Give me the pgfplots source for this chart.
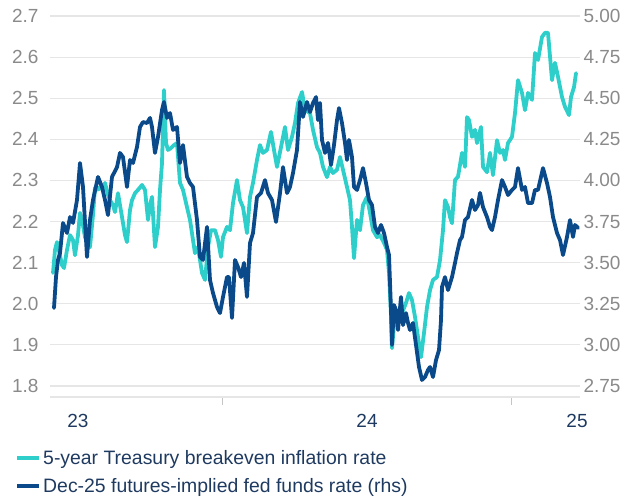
\documentclass[border=0pt]{standalone}
\usepackage{pgfplots}
\pgfplotsset{compat=1.18}
\usepackage{fontspec}
\setmainfont{Liberation Sans}
\definecolor{cyanline}{HTML}{2ECFCB}
\definecolor{navyline}{HTML}{0B4A8A}
\definecolor{navytext}{HTML}{1F3A60}
\definecolor{labgray}{HTML}{8A8A8A}
\definecolor{gridgray}{HTML}{E6E6E6}
\pgfplotsset{
  base/.style={
    scale only axis, width=530pt, height=387pt,
    xmin=50, xmax=580,
    /pgf/number format/assume math mode=true,
    tick label style={font=\fontsize{19}{22}\selectfont},
    yticklabel style={text=labgray},
    ytick style={draw=none},
    clip=false,
  },
  lineplot/.style={line width=3.8pt, line join=round, line cap=round},
}
\begin{document}
\begin{tikzpicture}
\useasboundingbox (-50pt,-102pt) rectangle (589pt,397pt);
\begin{axis}[base,
  ymin=1.7732, ymax=2.7146,
  ytick={1.8,1.9,2.0,2.1,2.2,2.3,2.4,2.5,2.6,2.7},
  yticklabel style={/pgf/number format/.cd, fixed, fixed zerofill, precision=1},
  ymajorgrids, grid style={gridgray, line width=1.2pt},
  axis x line*=bottom, axis y line*=left,
  y axis line style={draw=none},
  x axis line style={gridgray, line width=1.2pt, -},
  xtick={222,511}, xticklabels={},
  xtick style={draw=labgray!50, line width=1pt},
  tick align=outside, major tick length=8pt,
  extra x ticks={78,367,577}, extra x tick labels={23,24,25},
  extra x tick style={major tick length=0pt, xticklabel style={text=navytext, anchor=center, yshift=-24pt}},
]
\addplot[cyanline, lineplot] coordinates {
(53,2.075)(55,2.131)(57,2.150)(60,2.118)(62,2.094)(64,2.087)(67,2.131)(70,2.167)(73,2.155)(75,2.118)(78,2.167)(80,2.221)(83,2.191)(85,2.162)(88,2.143)(90,2.138)(93,2.216)(95,2.282)(98,2.277)(100,2.284)(103,2.277)(105,2.294)(108,2.265)(110,2.252)(113,2.240)(115,2.223)(118,2.269)(120,2.240)(122,2.211)(125,2.167)(127,2.150)(130,2.228)(132,2.252)(135,2.269)(138,2.277)(142,2.289)(145,2.277)(148,2.204)(150,2.240)(152,2.260)(155,2.138)(158,2.187)(160,2.277)(162,2.342)(164,2.520)(166,2.391)(168,2.374)(171,2.379)(174,2.386)(177,2.391)(180,2.294)(183,2.277)(187,2.235)(190,2.204)(193,2.155)(195,2.123)(198,2.138)(202,2.075)(205,2.058)(208,2.138)(211,2.179)(215,2.179)(218,2.155)(221,2.114)(223,2.162)(227,2.187)(230,2.179)(233,2.245)(237,2.301)(240,2.252)(243,2.235)(247,2.172)(250,2.260)(253,2.294)(257,2.350)(260,2.386)(263,2.367)(267,2.374)(271,2.418)(274,2.374)(277,2.333)(281,2.381)(285,2.430)(288,2.374)(292,2.406)(295,2.440)(298,2.488)(302,2.515)(305,2.471)(310,2.464)(313,2.423)(317,2.381)(320,2.367)(323,2.333)(327,2.308)(330,2.333)(333,2.318)(337,2.326)(340,2.357)(343,2.326)(347,2.284)(350,2.252)(352,2.187)(354,2.111)(357,2.204)(360,2.179)(363,2.240)(367,2.260)(370,2.221)(373,2.179)(377,2.162)(380,2.167)(384,2.148)(387,2.131)(389,2.075)(391,1.973)(392,1.892)(395,1.977)(398,1.960)(402,1.977)(406,2.002)(409,2.026)(412,2.009)(415,1.968)(418,1.919)(421,1.870)(424,1.929)(427,1.992)(430,2.033)(433,2.058)(437,2.065)(440,2.106)(443,2.179)(445,2.252)(448,2.235)(450,2.211)(452,2.196)(455,2.301)(458,2.309)(462,2.367)(465,2.333)(467,2.454)(469,2.447)(472,2.406)(475,2.423)(477,2.391)(481,2.430)(483,2.333)(487,2.320)(490,2.367)(493,2.313)(497,2.398)(500,2.367)(503,2.374)(505,2.350)(508,2.391)(512,2.406)(515,2.464)(518,2.544)(522,2.513)(525,2.471)(528,2.513)(532,2.496)(535,2.610)(538,2.593)(542,2.649)(545,2.659)(548,2.659)(552,2.544)(555,2.586)(558,2.552)(562,2.503)(565,2.479)(569,2.459)(571,2.503)(574,2.527)(576,2.561)
};
\end{axis}
\begin{axis}[base,
  ymin=2.6825, ymax=5.0365,
  axis x line=none, axis y line*=right,
  y axis line style={draw=none},
  ytick={2.75,3.00,3.25,3.50,3.75,4.00,4.25,4.50,4.75,5.00},
  yticklabel style={/pgf/number format/.cd, fixed, fixed zerofill, precision=2},
  legend style={at={(-0.066,-0.133)}, anchor=north west, draw=none, fill=none,
    font=\fontsize{19.4}{22}\selectfont\color{navytext}, inner sep=0pt, row sep=8pt,
    legend cell align=left},
  legend image code/.code={\draw[#1, line width=4pt, line cap=butt] (0pt,0pt) -- (22pt,0pt);},
]
\addlegendimage{cyanline}
\addlegendentry{5-year Treasury breakeven inflation rate}
\addplot[navyline, lineplot] coordinates {
(54,3.224)(56,3.412)(58,3.516)(60,3.558)(63,3.741)(67,3.680)(70,3.777)(73,3.741)(77,3.881)(80,4.106)(83,3.960)(87,3.534)(90,3.759)(93,3.881)(98,4.021)(102,3.960)(105,3.881)(108,3.789)(112,4.021)(117,4.081)(120,4.167)(123,4.142)(127,3.960)(130,4.124)(133,4.106)(137,4.203)(140,4.325)(143,4.355)(147,4.349)(150,4.380)(152,4.325)(155,4.167)(158,4.264)(162,4.428)(164,4.477)(167,4.380)(170,4.410)(173,4.307)(177,4.325)(180,4.106)(183,4.215)(187,4.021)(190,3.984)(193,3.960)(197,3.759)(200,3.534)(203,3.516)(207,3.717)(210,3.394)(213,3.315)(217,3.230)(220,3.193)(223,3.291)(227,3.412)(229,3.412)(232,3.163)(235,3.516)(238,3.473)(241,3.412)(244,3.498)(247,3.291)(250,3.619)(253,3.680)(257,3.899)(261,3.923)(265,4.002)(268,3.923)(272,3.881)(276,3.747)(280,3.923)(283,4.081)(287,3.923)(290,3.960)(293,4.045)(297,4.185)(300,4.477)(303,4.386)(307,4.477)(310,4.416)(313,4.471)(316,4.507)(318,4.367)(320,4.471)(322,4.246)(325,4.167)(328,4.228)(331,4.094)(334,4.215)(337,4.367)(339,4.440)(342,4.349)(345,4.228)(347,4.124)(349,4.246)(352,4.142)(354,3.960)(357,3.942)(360,4.002)(363,4.075)(366,3.984)(369,3.881)(372,3.850)(375,3.717)(378,3.680)(381,3.729)(384,3.680)(387,3.595)(389,3.546)(391,3.212)(392,2.999)(394,3.242)(396,3.212)(398,3.090)(401,3.291)(403,3.120)(406,3.193)(408,3.133)(410,3.090)(413,3.133)(416,2.999)(419,2.865)(422,2.786)(425,2.804)(428,2.847)(430,2.865)(433,2.804)(436,2.907)(439,2.968)(441,3.151)(442,3.352)(445,3.412)(448,3.333)(452,3.412)(455,3.498)(457,3.558)(460,3.637)(462,3.656)(465,3.759)(468,3.777)(472,3.881)(475,3.820)(478,3.850)(480,3.924)(483,3.838)(487,3.777)(490,3.717)(492,3.698)(495,3.777)(498,3.881)(502,4.002)(505,3.960)(508,3.911)(512,3.942)(515,3.960)(518,4.075)(522,3.942)(525,3.960)(528,3.862)(532,3.862)(535,3.942)(538,3.942)(543,4.075)(547,3.984)(550,3.899)(553,3.777)(557,3.680)(560,3.637)(563,3.546)(567,3.656)(570,3.759)(573,3.656)(575,3.729)(578,3.711)
};
\addlegendentry{Dec-25 futures-implied fed funds rate (rhs)}
\end{axis}
\end{tikzpicture}
\end{document}
